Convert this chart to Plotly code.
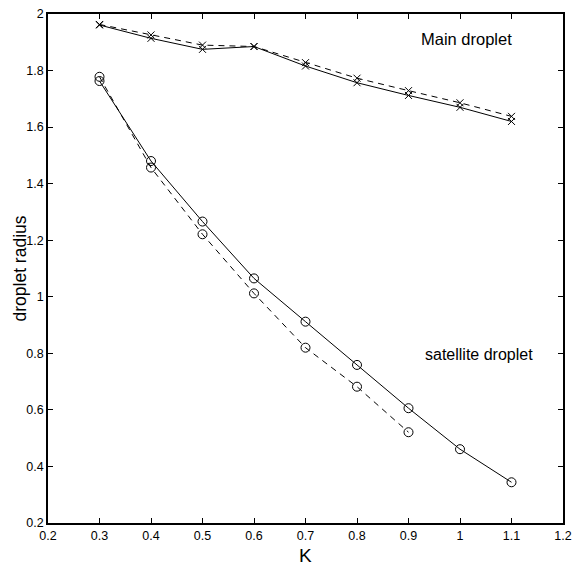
import plotly.graph_objects as go

K_main = [0.3, 0.4, 0.5, 0.6, 0.7, 0.8, 0.9, 1.0, 1.1]
main_solid = [1.961, 1.914, 1.875, 1.885, 1.816, 1.757, 1.712, 1.670, 1.620]
main_dashed = [1.963, 1.926, 1.890, 1.885, 1.828, 1.773, 1.729, 1.686, 1.638]

K_sat_solid = [0.3, 0.4, 0.5, 0.6, 0.7, 0.8, 0.9, 1.0, 1.1]
sat_solid = [1.763, 1.480, 1.266, 1.065, 0.912, 0.759, 0.606, 0.461, 0.344]
K_sat_dashed = [0.3, 0.4, 0.5, 0.6, 0.7, 0.8, 0.9]
sat_dashed = [1.778, 1.457, 1.221, 1.012, 0.820, 0.682, 0.521]

x_ticks = [0.2, 0.3, 0.4, 0.5, 0.6, 0.7, 0.8, 0.9, 1.0, 1.1, 1.2]
x_ticklabels = ["0.2", "0.3", "0.4", "0.5", "0.6", "0.7", "0.8", "0.9", "1", "1.1", "1.2"]
y_ticks = [0.2, 0.4, 0.6, 0.8, 1.0, 1.2, 1.4, 1.6, 1.8, 2.0]
y_ticklabels = ["0.2", "0.4", "0.6", "0.8", "1", "1.2", "1.4", "1.6", "1.8", "2"]

FONT = "Liberation Sans, Arial, Helvetica, sans-serif"

fig = go.Figure()
fig.add_trace(go.Scatter(x=K_main, y=main_solid, mode="lines+markers",
                         line=dict(color="black", width=1),
                         marker=dict(symbol="x-thin-open", size=7, color="black",
                                     line=dict(color="black", width=1))))
fig.add_trace(go.Scatter(x=K_main, y=main_dashed, mode="lines+markers",
                         line=dict(color="black", width=1, dash="6px,5px"),
                         marker=dict(symbol="x-thin-open", size=7, color="black",
                                     line=dict(color="black", width=1))))
fig.add_trace(go.Scatter(x=K_sat_solid, y=sat_solid, mode="lines+markers",
                         line=dict(color="black", width=1),
                         marker=dict(symbol="circle-open", size=9, color="black",
                                     line=dict(color="black", width=1))))
fig.add_trace(go.Scatter(x=K_sat_dashed, y=sat_dashed, mode="lines+markers",
                         line=dict(color="black", width=1, dash="6px,5px"),
                         marker=dict(symbol="circle-open", size=9, color="black",
                                     line=dict(color="black", width=1))))

fig.add_annotation(x=1.012, y=1.91, text="Main droplet", showarrow=False,
                   font=dict(family=FONT, size=16.5, color="black"))
fig.add_annotation(x=1.037, y=0.797, text="satellite droplet", showarrow=False,
                   font=dict(family=FONT, size=16, color="black"))

# axis titles, placed in pixels relative to the plot area
fig.add_annotation(x=0.5, xref="paper", y=0, yref="paper", yshift=-32,
                   xanchor="center", yanchor="middle",
                   text="K", showarrow=False,
                   font=dict(family=FONT, size=19, color="black"))
fig.add_annotation(x=0, xref="paper", y=0.5, yref="paper", xshift=-29,
                   xanchor="center", yanchor="middle",
                   text="droplet radius", showarrow=False, textangle=-90,
                   font=dict(family=FONT, size=17.5, color="black"))

axis_common = dict(showgrid=False, zeroline=False, showline=True, linecolor="black",
                   linewidth=1.5, mirror="ticks", ticks="inside", ticklen=5,
                   tickcolor="black", tickwidth=1, automargin=False,
                   tickfont=dict(family=FONT, size=12.5, color="black"))

fig.update_layout(
    width=572, height=565,
    margin=dict(l=48, r=9, t=14, b=42),
    paper_bgcolor="white", plot_bgcolor="white",
    showlegend=False,
    xaxis=dict(range=[0.2, 1.2], tickvals=x_ticks, ticktext=x_ticklabels,
               ticklabeloverflow="allow", **axis_common),
    yaxis=dict(range=[0.2, 2.0], tickvals=y_ticks, ticktext=y_ticklabels,
               ticklabeloverflow="allow", ticklabelstandoff=0, **axis_common),
)

# remove the page's default body margin so the 572x565 figure fills the window
fig.write_html("out.html",
               config={"displayModeBar": False},
               post_script="document.body.style.margin='0';document.body.style.overflow='hidden';")
